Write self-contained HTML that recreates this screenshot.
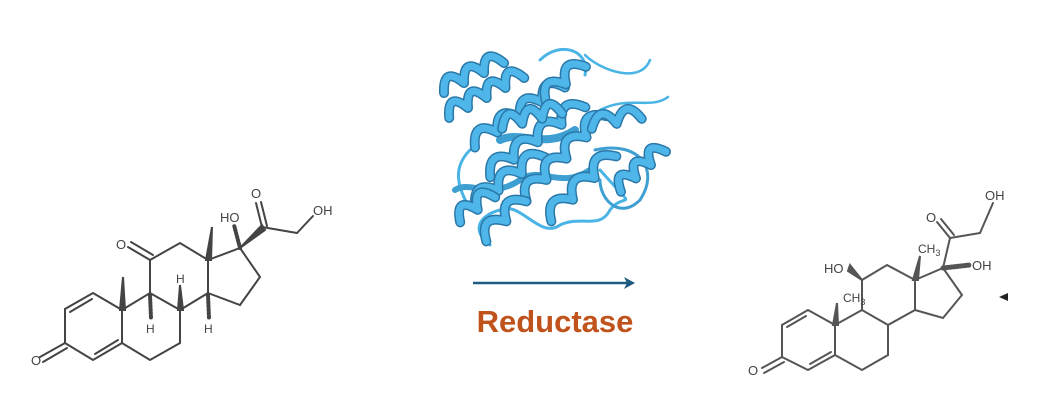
<!DOCTYPE html>
<html><head><meta charset="utf-8"><style>
html,body{margin:0;padding:0;background:#fff;width:1045px;height:412px;overflow:hidden}
svg{display:block}
text{font-family:"Liberation Sans",sans-serif}
</style></head><body>
<svg id="s" width="1045" height="412" viewBox="0 0 1045 412">
<g stroke="#444" stroke-width="2" fill="none" stroke-linecap="round">
 <polyline points="93,293 65,309 65,343 93,360 122,343 122,310 93,293"/>
 <line x1="92" y1="299" x2="70" y2="312"/>
 <line x1="95" y1="354" x2="118" y2="340"/>
 <line x1="65" y1="343" x2="40" y2="357"/>
 <line x1="67" y1="348" x2="43" y2="362"/>
 <polyline points="122,310 150,293 180,310 180,343 150,360 122,343"/>
 <polyline points="150,293 150,260 180,243 208,260 208,293 180,310"/>
 <polyline points="208,260 240,248 260,277 240,305 208,293"/>
 <line x1="150" y1="260" x2="128" y2="247"/><line x1="153" y1="255" x2="131" y2="242"/>
 <polygon points="120,310 125,310 123,277" fill="#444"/>
 <polygon points="206,260 211,260 212,227" fill="#444"/>
 <polygon points="240,248 262,225 265,230" fill="#444"/>
 <line x1="262" y1="227" x2="297" y2="233"/>
 <line x1="262" y1="227" x2="256" y2="203"/><line x1="267" y1="226" x2="261" y2="202"/>
 <line x1="297" y1="233" x2="313" y2="216"/>
 <line x1="240" y1="248" x2="234" y2="225" stroke-dasharray="1.5,2" stroke-width="4"/>
 <line x1="150" y1="295" x2="151" y2="318" stroke-dasharray="1.5,2" stroke-width="4"/>
 <line x1="208" y1="295" x2="209" y2="318" stroke-dasharray="1.5,2" stroke-width="4"/>
 <polygon points="178,310 183,310 180,285" fill="#444"/>
</g>
<g fill="#444" font-size="13">
 <text x="31" y="365">O</text>
 <text x="116" y="249">O</text>
 <text x="251" y="198">O</text>
 <text x="220" y="222">HO</text>
 <text x="313" y="215">OH</text>
 <text x="146" y="333" font-size="12">H</text>
 <text x="176" y="283" font-size="12">H</text>
 <text x="204" y="333" font-size="12">H</text>
</g>

<g stroke="#555" stroke-width="2" fill="none" stroke-linecap="round">
 <polyline points="808,310 782,325 782,357 808,370 835,355 835,325 808,310"/>
 <line x1="806" y1="316" x2="787" y2="327"/>
 <line x1="810" y1="364" x2="831" y2="352"/>
 <line x1="782" y1="357" x2="762" y2="368"/><line x1="784" y1="362" x2="764" y2="373"/>
 <polyline points="835,325 862,310 888,325 888,355 862,370 835,355"/>
 <polyline points="862,310 862,280 887,265 915,280 915,310 888,325"/>
 <polyline points="915,280 943,268 962,295 943,318 915,310"/>
 <polygon points="833,325 838,325 837,303" fill="#555"/>
 <polygon points="913,280 918,280 920,256" fill="#555"/>
 <polygon points="862,280 850,265 848,271" fill="#555"/>
 <line x1="943" y1="268" x2="970" y2="265" stroke-dasharray="1.5,2" stroke-width="5"/>
 <line x1="943" y1="268" x2="950" y2="238"/>
 <line x1="950" y1="238" x2="937" y2="222"/><line x1="954" y1="235" x2="941" y2="219"/>
 <line x1="950" y1="238" x2="980" y2="233"/>
 <line x1="980" y1="233" x2="993" y2="203"/>
</g>
<polygon points="999,297 1008,293 1008,301" fill="#222"/>
<g fill="#444" font-size="13">
 <text x="748" y="375">O</text>
 <text x="926" y="222">O</text>
 <text x="824" y="273">HO</text>
 <text x="972" y="270">OH</text>
 <text x="985" y="200">OH</text>
 <text x="843" y="302" font-size="12">CH<tspan font-size="9" dy="3">3</tspan></text>
 <text x="918" y="253" font-size="12">CH<tspan font-size="9" dy="3">3</tspan></text>
</g>

<g id="prot" fill="none" stroke-linecap="round" stroke-linejoin="round"></g>

<line x1="473" y1="283" x2="628" y2="283" stroke="#1f5a80" stroke-width="2.5"/>
<polygon points="635,283 624,277 627,283 624,289" fill="#1f5a80"/>
<text x="555" y="332" text-anchor="middle" font-size="31" font-weight="bold" fill="#c0521c">Reductase</text>
</svg>
<script>
const g=document.getElementById('prot');
const NS='http://www.w3.org/2000/svg';
function path(d,c,w){const p=document.createElementNS(NS,'path');p.setAttribute('d',d);p.setAttribute('stroke',c);p.setAttribute('stroke-width',w);


g.appendChild(p);}
// loops
path('M490,245 C470,230 480,215 500,210 C520,200 540,240 560,225 C580,215 600,230 610,210 C625,190 640,215 600,170','#4ab4e6',3);
path('M585,55 C600,70 640,85 650,60 M600,110 C630,95 650,110 668,97','#4ab4e6',2.5);
path('M470,210 C460,190 450,170 470,150 M540,60 C560,40 590,50 585,75','#4ab4e6',3);
path('M595,150 C640,140 660,170 640,200 C620,220 600,200 600,180','#3d9fd2',3);
path('M455,190 C470,180 490,200 520,180 C540,165 560,190 590,170','#3d9fd2',6);
path('M500,140 C520,130 545,150 575,130','#3d9fd2',8);
// helices: [x1,y1,x2,y2,turns]
const H=[[440,85,500,55,3],[445,110,520,70,4],[470,140,560,80,4],[485,170,580,100,4],[470,200,540,150,3],[520,195,600,110,4],[545,215,610,150,3],[590,120,640,110,2],[615,185,660,145,3],[480,235,520,195,2],[540,95,580,60,2],[500,120,560,105,3],[455,215,490,190,2]];
for(const h of H){const [x1,y1,x2,y2,n]=h;const dx=(x2-x1)/n,dy=(y2-y1)/n,L=Math.hypot(dx,dy);const nx=-dy/L*9,ny=dx/L*9;
 let d='M'+(x1+nx)+','+(y1+ny);
 for(let i=0;i<n;i++){const ax=x1+dx*i,ay=y1+dy*i;
  d+=' Q'+(ax+dx*0.5-nx*1.8)+','+(ay+dy*0.5-ny*1.8)+' '+(ax+dx+nx)+','+(ay+dy+ny);}
 path(d,'#2a78a8',10);path(d,'#4fb6ea',7);}
</script>
</body></html>
